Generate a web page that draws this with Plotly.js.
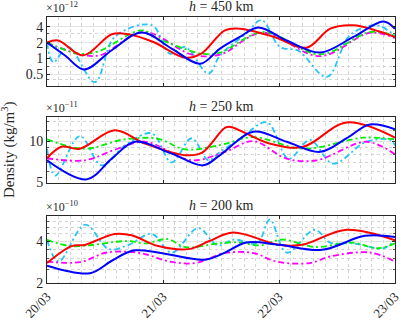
<!DOCTYPE html>
<html>
<head>
<meta charset="utf-8">
<script src="https://cdn.plot.ly/plotly-3.0.1.min.js"></script>
<style>body{margin:0;padding:0;background:#fff}#chart{width:403px;height:320px}</style>
</head>
<body>
<div id="chart"></div>
<script>
// time axis in hours since 20/03 00:00
var dayLabels = ["20/03", "21/03", "22/03", "23/03"];
var dayHours = [0, 24, 48, 72];

// h = 450 km  (x1e-12 kg/m^3)
var h450BlueT = [0, 3.8, 7.7, 13.4, 19.6, 25.8, 31.7, 35.8, 39.9, 43.7, 49.6, 56.5, 63.4, 69.6, 72];
var h450Blue = [2.0, 1.12, 0.61, 1.43, 3.12, 1.54, 0.79, 1.54, 2.57, 3.9, 2.2, 1.29, 2.57, 5.1, 3.7];
var h450RedT = [0, 2.3, 7.5, 13.4, 16.8, 22, 28.6, 32, 36.8, 39.9, 47, 53.7, 58.6, 63.4, 72];
var h450Red = [2.0, 2.2, 1.14, 2.9, 2.9, 2.06, 1.03, 1.25, 3.45, 3.7, 2.57, 1.6, 3.7, 4.3, 2.57];
var h450GreenT = [0, 6.5, 10.6, 19.6, 23, 32, 35.8, 44.8, 56.5, 66.8, 72];
var h450Green = [2.0, 1.23, 1.36, 3.45, 2.4, 1.23, 1.29, 3.2, 1.19, 3.2, 2.7];
var h450MagT = [0, 7, 11, 20, 30, 35.8, 44.5, 56.5, 66.8, 72];
var h450Mag = [2.0, 1.18, 1.15, 3.2, 1.18, 1.18, 3.1, 1.1, 3.07, 2.45];
var h450CyanT = [0, 1.3, 4.4, 9.9, 14, 21.7, 25.4, 28.6, 33.4, 35.8, 41.2, 44.4, 48.2, 52, 57.9, 62.7, 68.2, 72];
var h450Cyan = [2.0, 0.85, 1.65, 0.35, 2.57, 4.3, 1.23, 1.65, 0.51, 1.14, 3.0, 5.4, 1.65, 1.4, 0.44, 2.77, 4.3, 2.7];

// h = 250 km  (x1e-11)
var h250BlueT = [0, 8.2, 13.4, 18.2, 25.8, 32.3, 35.8, 42.7, 49.6, 56.5, 62, 66.8, 72];
var h250Blue = [7.25, 5.26, 7.45, 9.9, 8.1, 6.66, 7.9, 11.7, 9.9, 8.35, 10.5, 13.2, 12.2];
var h250RedT = [0, 3, 6.8, 14, 20.3, 28.6, 32, 36.8, 38, 46, 53, 62, 72];
var h250Red = [7.5, 9.1, 8.8, 12.0, 9.6, 7.9, 8.2, 12.5, 12.7, 9.6, 9.1, 13.7, 10.6];
var h250GreenT = [0, 7.8, 16, 23, 28.6, 36, 42.7, 53, 65.5, 72];
var h250Green = [10.3, 8.8, 10.3, 10.4, 8.7, 9.4, 10.7, 8.8, 10.6, 10.3];
var h250MagT = [0, 7.8, 14.6, 20.3, 29.9, 36.8, 42.7, 49.6, 55.8, 66.1, 72];
var h250Mag = [7.5, 7.25, 8.8, 9.9, 7.25, 8.35, 10, 7.45, 7.25, 9.9, 8.0];
var h250CyanT = [0, 1.7, 6.8, 11.3, 16.2, 21.7, 25.8, 29.9, 33.4, 35.8, 40, 45.5, 50, 54.4, 59.2, 66, 71, 72];
var h250Cyan = [8.8, 5.6, 10.9, 6.66, 9.35, 11.4, 7.0, 10.5, 7.25, 8.35, 10.4, 13.7, 7.45, 10.2, 6.85, 9.9, 10.2, 9.3];

// h = 200 km  (x1e-10)
var h200BlueT = [0, 8.9, 13.5, 18.2, 32.7, 36.8, 41.2, 48, 56.9, 65.8, 72];
var h200Blue = [2.66, 2.35, 2.9, 3.43, 2.94, 3.3, 3.91, 3.76, 3.46, 4.36, 4.27];
var h200RedT = [0, 5.1, 7.8, 14, 17.5, 23, 29.3, 33.6, 38.5, 48, 52.8, 62, 72];
var h200Red = [2.78, 3.68, 3.75, 4.5, 4.4, 3.68, 3.5, 4.0, 4.6, 3.76, 3.76, 4.82, 4.05];
var h200GreenT = [0, 5, 16.8, 20.3, 25, 28.6, 36, 40, 44, 48.7, 55.5, 63, 68.5, 72];
var h200Green = [4.08, 3.68, 4.0, 3.85, 4.13, 3.62, 3.87, 3.9, 3.72, 4.1, 3.62, 3.9, 3.55, 3.85];
var h200MagT = [0, 6.8, 12.4, 19.3, 25.4, 30.6, 36.8, 42.7, 47.5, 54.4, 58.6, 66.8, 72];
var h200Mag = [2.85, 2.82, 3.31, 3.28, 2.85, 2.78, 3.28, 3.28, 2.85, 2.78, 3.1, 3.31, 2.85];
var h200CyanT = [0, 2.4, 7.9, 12.8, 16.9, 21.7, 25.8, 31.3, 35.3, 38.6, 43.5, 46.1, 49.6, 55.4, 58.6, 63.4, 69.6, 72];
var h200Cyan = [4.08, 2.85, 5.24, 3.5, 3.76, 4.5, 3.3, 4.96, 3.72, 4.1, 3.87, 5.7, 3.3, 4.82, 3.9, 3.85, 3.55, 4.13];

var serif = "Liberation Serif, Times New Roman, serif";
var dashdot = "6px,3px,2px,3px";

function line(x, y, color, dash, ax) {
  return {
    x: x, y: y, xaxis: "x" + ax, yaxis: "y" + ax,
    type: "scatter", mode: "lines",
    line: {color: color, width: dash ? 1.8 : 2, dash: dash || "solid", shape: "spline", smoothing: 1},
    hoverinfo: "skip"
  };
}

function panel(ax, sets) {
  // draw order: cyan, magenta, green, red, blue on top
  return [
    line(sets[8], sets[9], "#22c4f7", dashdot, ax),
    line(sets[6], sets[7], "#ff00ff", dashdot, ax),
    line(sets[4], sets[5], "#00ee00", dashdot, ax),
    line(sets[2], sets[3], "#ff0000", null, ax),
    line(sets[0], sets[1], "#0000ff", null, ax)
  ];
}

var traces = [].concat(
  panel("", [h450BlueT, h450Blue, h450RedT, h450Red, h450GreenT, h450Green, h450MagT, h450Mag, h450CyanT, h450Cyan]),
  panel("2", [h250BlueT, h250Blue, h250RedT, h250Red, h250GreenT, h250Green, h250MagT, h250Mag, h250CyanT, h250Cyan]),
  panel("3", [h200BlueT, h200Blue, h200RedT, h200Red, h200GreenT, h200Green, h200MagT, h200Mag, h200CyanT, h200Cyan])
);

var H = 320;
function dom(top, bot) { return [1 - bot / H, 1 - top / H]; }
var d1 = dom(17, 86), d2 = dom(117, 183), d3 = dom(216, 283);

// major ticks/labels once a day; 12 h lines drawn by an unlabeled overlay axis
function xax(anchor, labels) {
  return {
    anchor: anchor, range: [0, 72], tickmode: "array", tickvals: dayHours, ticktext: dayLabels,
    showticklabels: labels, tickangle: -45, ticks: "inside", ticklen: 3, tickcolor: "#262626",
    showline: true, mirror: "allticks", linecolor: "#262626", linewidth: 1,
    showgrid: true, gridcolor: "#e3e3e3", gridwidth: 1, zeroline: false,
    minor: {dtick: 2.4, tick0: 0, showgrid: true, gridcolor: "#d4d4d4", griddash: "dot", ticks: ""},
    tickfont: {family: serif, size: 13, color: "#262626"}
  };
}
function xhalf(anchor, over) {
  return {
    anchor: anchor, overlaying: over, range: [0, 72], dtick: 24, tick0: 12,
    showticklabels: false, ticks: "inside", ticklen: 3, tickcolor: "#262626",
    showline: false, showgrid: true, gridcolor: "#e3e3e3", gridwidth: 1, zeroline: false
  };
}
function yax(domain, range, vals, minorVals) {
  return {
    domain: domain, type: "log", range: range,
    tickmode: "array", tickvals: vals, ticktext: vals.map(String),
    ticks: "inside", ticklen: 3, tickcolor: "#262626",
    showline: true, mirror: "allticks", linecolor: "#262626", linewidth: 1,
    showgrid: true, gridcolor: "#e3e3e3", gridwidth: 1, zeroline: false,
    minor: {tickmode: "array", tickvals: minorVals, showgrid: true, gridcolor: "#d4d4d4", griddash: "dot", ticks: "inside", ticklen: 2, tickcolor: "#555"},
    tickfont: {family: serif, size: 14, color: "#262626"}
  };
}

var y1 = yax(d1, [Math.log10(0.295), Math.log10(6.2)], [0.5, 1, 2, 4], [0.3, 0.4, 0.7, 3, 6]);
y1.anchor = "x";
var y2 = yax(d2, [Math.log10(4.95), Math.log10(15)], [5, 10], [6, 7, 8, 9, 12, 14]);
y2.anchor = "x2";
var y3 = yax(d3, [Math.log10(2), Math.log10(6.05)], [2, 4], [2.5, 3, 3.5, 4.5, 5, 5.5, 6]);
y3.anchor = "x3";

var x1 = xax("y", false), x2 = xax("y2", false), x3 = xax("y3", true);

function note(text, x, xanchor, topPx, size) {
  return {text: text, xref: "paper", yref: "paper", x: x, xanchor: xanchor,
    y: 1 - topPx / H, yanchor: "bottom", showarrow: false,
    font: {family: serif, size: size, color: "#262626"}};
}

var annotations = [
  note("×10<sup>−12</sup>", -0.01, "left", 17, 12),
  note("<i>h</i> = 450 km", 0.5, "center", 16, 14),
  note("×10<sup>−11</sup>", -0.01, "left", 117, 12),
  note("<i>h</i> = 250 km", 0.5, "center", 116, 14),
  note("×10<sup>−10</sup>", -0.01, "left", 216, 12),
  note("<i>h</i> = 200 km", 0.5, "center", 215, 14),
  {text: "Density (kg/m<sup>3</sup>)", xref: "paper", yref: "paper", x: -0.112, y: 1 - 150 / H,
    xanchor: "center", yanchor: "middle", textangle: -90, showarrow: false,
    font: {family: serif, size: 15, color: "#262626"}}
];

var layout = {
  width: 403, height: 320,
  margin: {l: 47, r: 8, t: 0, b: 0},
  paper_bgcolor: "#ffffff", plot_bgcolor: "#ffffff",
  showlegend: false,
  xaxis: x1, yaxis: y1, xaxis2: x2, yaxis2: y2, xaxis3: x3, yaxis3: y3,
  xaxis4: xhalf("y", "x"), xaxis5: xhalf("y2", "x2"), xaxis6: xhalf("y3", "x3"),
  annotations: annotations
};

Plotly.newPlot("chart", traces, layout, {staticPlot: true, displayModeBar: false});
</script>
</body>
</html>
